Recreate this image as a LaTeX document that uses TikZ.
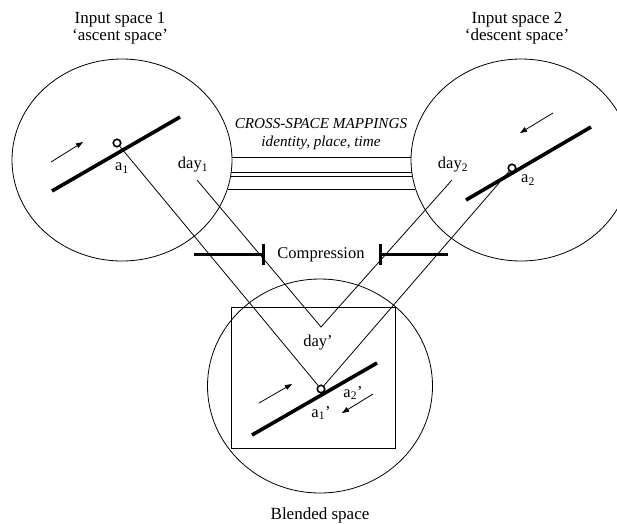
\documentclass[tikz,border=0pt]{standalone}
\usepackage{fontspec}
\setmainfont{Liberation Serif}
\usetikzlibrary{shapes.geometric,arrows.meta}
\tikzset{
  space/.style={draw, ellipse, line width=0.8pt, inner sep=0pt},
  heavy/.style={line width=3.6pt},
  thin/.style={line width=0.8pt},
  dot/.style={circle, draw, line width=1.6pt, fill=white, minimum size=7.5pt, inner sep=0pt},
  motion/.style={line width=0.8pt, -{Triangle[length=7pt,width=5pt]}},
  title/.style={font=\fontsize{17}{17}\selectfont, align=center},
  lab/.style={font=\fontsize{16.5}{17}\selectfont, inner sep=0pt},
  bar/.style={line width=3pt},
}
\begin{document}
\begin{tikzpicture}[x=1pt,y=-1pt]
\useasboundingbox (0,0) rectangle (617,523);
% titles
\node[title] (t1) at (120,28) {Input space 1\\‘ascent space’};
\node[title] (t2) at (517,28) {Input space 2\\‘descent space’};
\node[title] (t3) at (320,515) {Blended space};
% spaces
\node[space, minimum width=220pt, minimum height=202pt] (in1) at (122,160) {};
\node[space, minimum width=220pt, minimum height=202pt] (in2) at (521,160) {};
\node[space, minimum width=225pt, minimum height=214pt] (bs) at (320,386) {};
\node[draw, thin, minimum width=164pt, minimum height=141pt, inner sep=0pt] (frame) at (313,377.5) {};
% cross-space mappings
\node[font=\itshape\fontsize{15.2}{18}\selectfont, align=center, inner sep=0pt] (csm) at (321,134) {CROSS-SPACE MAPPINGS\\identity, place, time};
\foreach \yy/\xa/\xb/\nm in {157/232/411/m1, 172/231.2/411.8/m2, 176/230.6/412.4/m3, 189/227.6/415.4/m4}{
  \coordinate (\nm l) at (\xa,\yy);
  \coordinate (\nm r) at (\xb,\yy);
  \draw[thin] (\nm l) -- (\nm r);
}
% input 1 contents
\coordinate (l1a) at (52,191); \coordinate (l1b) at (180,117);
\draw[heavy] (l1a) -- (l1b);
\coordinate (m1a) at (51,162); \coordinate (m1b) at (83,142);
\draw[motion] (m1a) -- (m1b);
\node[lab] (a1) at (122,168) {a\textsubscript{1}};
\node[lab] (day1) at (193,165) {day\textsubscript{1}};
% input 2 contents
\coordinate (l2a) at (466,200); \coordinate (l2b) at (591,127);
\draw[heavy] (l2a) -- (l2b);
\coordinate (m2a) at (553,113); \coordinate (m2b) at (520,133);
\draw[motion] (m2a) -- (m2b);
\node[lab] (a2) at (528,180) {a\textsubscript{2}};
\node[lab] (day2) at (453,165) {day\textsubscript{2}};
% blend contents
\coordinate (lba) at (252,435); \coordinate (lbb) at (377,363);
\draw[heavy] (lba) -- (lbb);
\coordinate (mba) at (259,403); \coordinate (mbb) at (292,384);
\draw[motion] (mba) -- (mbb);
\coordinate (mca) at (373,394); \coordinate (mcb) at (342,413);
\draw[motion] (mca) -- (mcb);
\node[lab] (dayb) at (318,343) {day’};
\node[lab] (a2b) at (353,393) {a\textsubscript{2}’};
\node[lab] (a1b) at (321,413) {a\textsubscript{1}’};
% projections
\coordinate (d1) at (197,180);
\coordinate (d2) at (452,180);
\coordinate (v) at (321,327);
\draw[thin] (d1) -- (v) -- (d2);
\node[dot] (p1) at (117,143) {};
\node[dot] (p2) at (512,168) {};
\node[dot] (pb) at (321,389) {};
\draw[thin] (p1) -- (pb);
\draw[thin] (p2) -- (pb);
% compression
\node[font=\fontsize{16.5}{17}\selectfont, inner sep=0pt] (comp) at (321,255) {Compression};
\coordinate (c1a) at (194,254); \coordinate (c1b) at (263,254);
\coordinate (c1t) at (263,244); \coordinate (c1u) at (263,265);
\coordinate (c2a) at (448,254); \coordinate (c2b) at (380,254);
\coordinate (c2t) at (380,244); \coordinate (c2u) at (380,265);
\draw[bar] (c1a) -- (c1b);
\draw[bar] (c1t) -- (c1u);
\draw[bar] (c2a) -- (c2b);
\draw[bar] (c2t) -- (c2u);
\end{tikzpicture}
\end{document}
